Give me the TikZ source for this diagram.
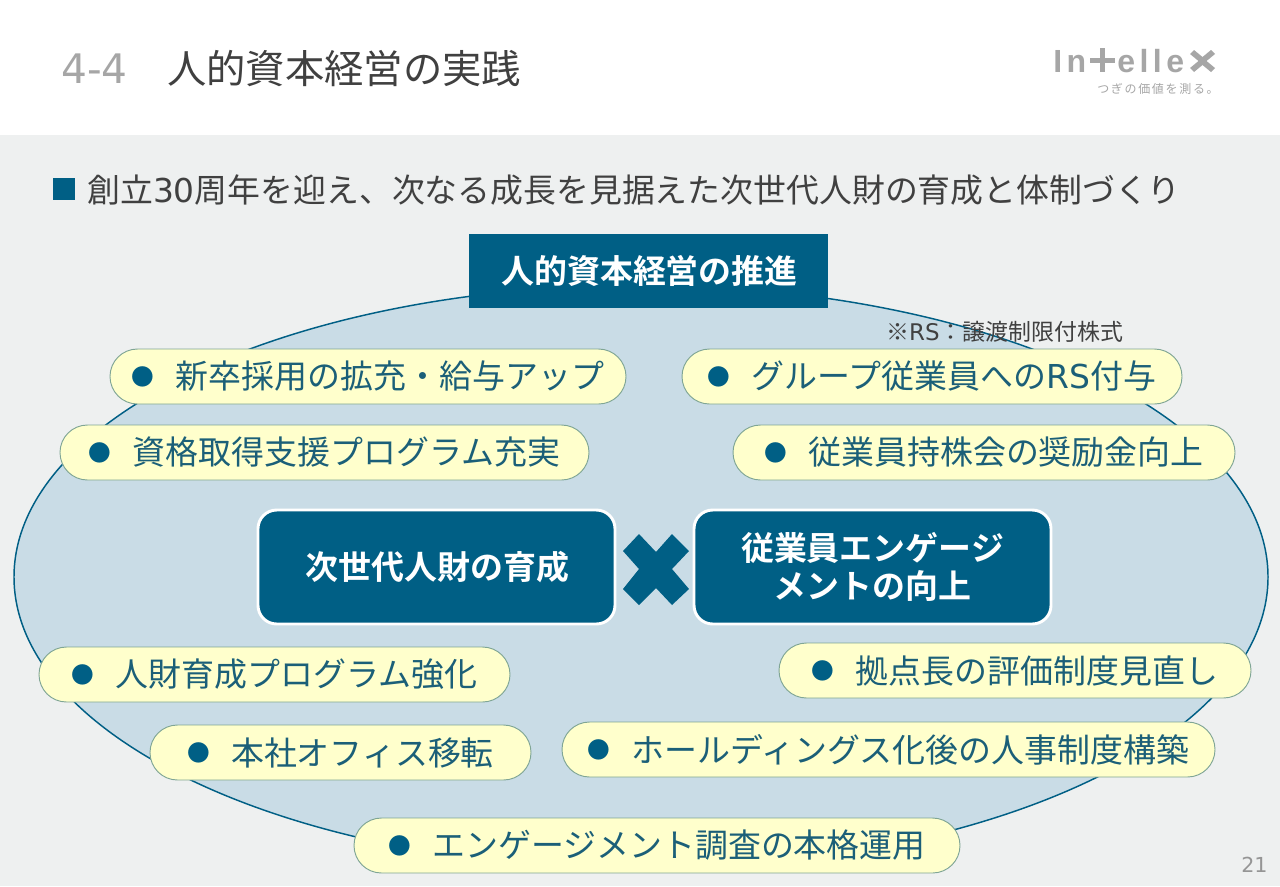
\documentclass[tikz,border=0pt]{standalone}
\usepackage{fontspec}
\setmainfont{Noto Sans CJK JP}
\newfontfamily\jpb{Noto Sans CJK JP Bold}
\newfontfamily\lat{DejaVu Sans}
\newfontfamily\logofont[LetterSpace=14]{Liberation Sans Bold}
\newfontfamily\tagfont[LetterSpace=14]{Noto Sans CJK JP}
\usetikzlibrary{shapes.misc}
\definecolor{teal1}{HTML}{005F85}
\definecolor{tealtxt}{HTML}{1B5F78}
\definecolor{bgc}{HTML}{EEF0F0}
\definecolor{ell}{HTML}{C9DCE6}
\definecolor{pillc}{HTML}{FFFFCC}
\definecolor{pilledge}{HTML}{7FA595}
\definecolor{txt}{HTML}{404040}
\definecolor{gr}{HTML}{A6A6A6}
\tikzset{
  pill/.style={draw=pilledge,line width=0.7pt,fill=pillc,rounded rectangle,inner sep=0pt,text=tealtxt,font=\fontsize{24.7}{26}\selectfont},
  darkbox/.style={draw=white,line width=2.2pt,fill=teal1,rounded corners=14pt,inner sep=0pt,text=white,align=center,font=\fontsize{24.7}{29}\selectfont\jpb},
  lab/.style={inner sep=0pt,anchor=west},
}
\newcommand{\bul}{{\color{teal1}\raisebox{2.8pt}{\fontsize{17}{17}\selectfont ●}}\hspace{16pt}}
% name, x1, x2, y1, y2, style, text
\newcommand{\boxnode}[7]{%
  \pgfmathsetmacro\bw{0.75*(#3-#2)}%
  \pgfmathsetmacro\bh{0.75*(#5-#4)}%
  \pgfmathsetmacro\bx{(#2+#3)/2}%
  \pgfmathsetmacro\by{(#4+#5)/2}%
  \node[#6,minimum width=\bw pt,minimum height=\bh pt] (#1) at (\bx,\by) {#7};}
\begin{document}
\begin{tikzpicture}[x=0.75pt,y=-0.75pt]
\useasboundingbox (0,0) rectangle (1280,886);
\fill[bgc] (0,0) rectangle (1280,886);
\fill[white] (0,0) rectangle (1280,135);
% header
\node[lab,text=gr,font=\fontsize{30.5}{31}\selectfont\lat] (num) at (61,69) {4-4};
\node[lab,text=txt,font=\fontsize{29.5}{30}\selectfont] (title) at (167,69) {人的資本経営の実践};
% logo
\node[lab,text=gr,font=\fontsize{24}{25}\selectfont\logofont] (logoa) at (1053,61) {In};
\fill[gr] (1090,57.5) rectangle (1115,62.5);
\fill[gr] (1099.5,48) rectangle (1104.5,72);
\node[lab,text=gr,font=\fontsize{24}{25}\selectfont\logofont] (logob) at (1117,61) {elle};
\fill[gr] (1190,54) -- (1194,50) -- (1202.5,57) -- (1211,50) -- (1215,54) -- (1206.5,61) -- (1215,68) -- (1211,72) -- (1202.5,65) -- (1194,72) -- (1190,68) -- (1198.5,61) -- cycle;
\node[lab,text=gr,font=\fontsize{9}{10}\selectfont\tagfont] (tag) at (1097,89) {つぎの価値を測る。};
% subtitle
\fill[teal1] (53,178) rectangle (75,200);
\node[lab,text=txt,font=\fontsize{24.65}{26}\selectfont] (sub) at (87,190) {創立{\lat 30}周年を迎え、次なる成長を見据えた次世代人財の育成と体制づくり};
% ellipse
\draw[draw=teal1,fill=ell,line width=1.1pt] (641,577) ellipse [x radius=627,y radius=291.7];
% top banner
\boxnode{banner}{469}{828}{234}{308}{fill=teal1,inner sep=0pt,text=white,font=\fontsize{24.7}{26}\selectfont\jpb}{\hspace{1.5pt}人的資本経営の推進}
\node[lab,text=txt,font=\fontsize{17.2}{18}\selectfont] (note) at (886,332) {※{\lat RS}：譲渡制限付株式};
% pills
\boxnode{p1}{110}{626}{349}{404}{pill}{\bul 新卒採用の拡充・給与アップ}
\boxnode{p2}{60}{589}{425}{480}{pill}{\bul 資格取得支援プログラム充実}
\boxnode{p3}{682}{1182}{349}{404}{pill}{\bul グループ従業員への{\lat RS}付与}
\boxnode{p4}{733}{1235}{425}{480}{pill}{\bul 従業員持株会の奨励金向上}
\boxnode{p5}{39}{510}{647}{702}{pill}{\bul 人財育成プログラム強化}
\boxnode{p6}{150}{531}{725}{780}{pill}{\bul 本社オフィス移転}
\boxnode{p7}{779}{1251}{643}{698}{pill}{\bul 拠点長の評価制度見直し}
\boxnode{p8}{562}{1215}{722}{777}{pill}{\bul ホールディングス化後の人事制度構築}
\boxnode{p9}{354}{960}{818}{873}{pill}{\bul エンゲージメント調査の本格運用}
% central boxes
\boxnode{c1}{258}{615}{510}{624}{darkbox}{\hspace{1.5pt}次世代人財の育成}
\boxnode{c2}{694}{1051}{510}{624}{darkbox}{従業員エンゲージ\\メントの向上}
\fill[teal1] (639,534) -- (656,552) -- (672,534) -- (689,551) -- (672,569) -- (689,589) -- (672,605) -- (656,588) -- (639,605) -- (623,589) -- (639,569) -- (623,551) -- cycle;
% page
\node[lab,text=gr!90!black,font=\fontsize{15.5}{16}\selectfont\lat] (page) at (1241,865) {21};
\end{tikzpicture}
\end{document}
